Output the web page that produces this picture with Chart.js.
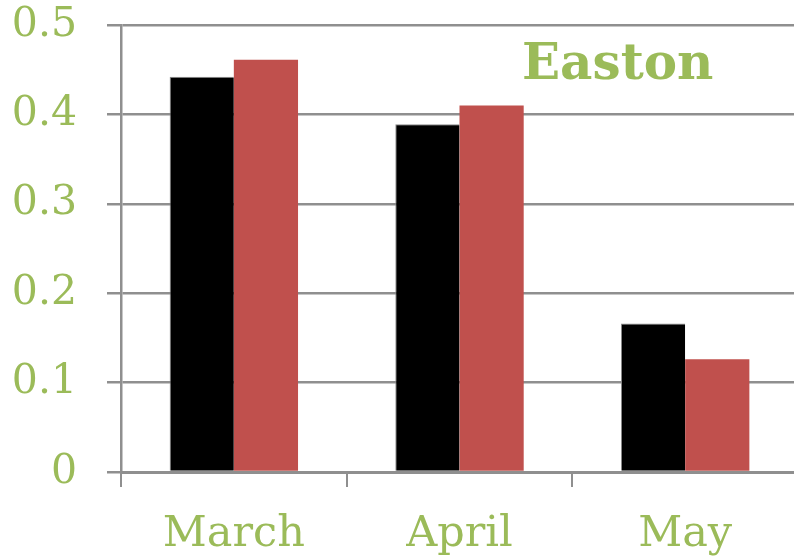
<!DOCTYPE html>
<html lang="en">
<head>
  <meta charset="UTF-8" />
  <title>Easton</title>
  <script src="https://cdn.jsdelivr.net/npm/chart.js"></script>
  <style>
    html, body { margin: 0; padding: 0; background: #fff; overflow: hidden; }
    .wrap { position: relative; width: 798px; height: 558px; }
    .chart-title {
      position: absolute;
      left: 522px;
      top: 32px;
      font-family: "DejaVu Serif", serif;
      font-weight: bold;
      font-size: 50px;
      color: #9BBB59;
    }
  </style>
</head>
<body>
  <div class="wrap">
    <canvas id="eastonChart" width="798" height="558"></canvas>
    <div class="chart-title">Easton</div>
  </div>

  <script>
    // data
    const months = ['March', 'April', 'May'];
    const seriesA = [0.442, 0.389, 0.166];
    const seriesB = [0.461, 0.410, 0.126];
    const yTicks = [0, 0.1, 0.2, 0.3, 0.4, 0.5];

    const green = '#9BBB59';
    const gridGray = '#8f8f8f';

    const ctx = document.getElementById('eastonChart').getContext('2d');
    new Chart(ctx, {
      type: 'bar',
      data: {
        labels: months,
        datasets: [
          {
            label: 'Series 1',
            data: seriesA,
            backgroundColor: '#000000',
            borderColor: '#8a8a8a',
            borderWidth: { left: 1, top: 1, right: 0, bottom: 0 },
            barPercentage: 1,
            categoryPercentage: 0.569
          },
          {
            label: 'Series 2',
            data: seriesB,
            backgroundColor: '#C0504D',
            barPercentage: 1,
            categoryPercentage: 0.569
          }
        ]
      },
      options: {
        responsive: false,
        animation: false,
        layout: { padding: { top: 25, right: 0, bottom: 0, left: 0 } },
        plugins: {
          legend: { display: false },
          tooltip: { enabled: false }
        },
        scales: {
          x: {
            grid: {
              display: true,
              drawOnChartArea: false,
              offset: true,
              color: gridGray,
              lineWidth: 2,
              tickLength: 15
            },
            border: { display: true, color: gridGray, width: 3 },
            ticks: {
              color: green,
              font: { family: 'DejaVu Serif', size: 43 },
              padding: 22
            },
            afterFit: (scale) => {
              scale.height = 86;
              scale.paddingLeft = 0;
              scale.paddingRight = 0;
            }
          },
          y: {
            min: 0,
            max: 0.5,
            afterBuildTicks: (scale) => {
              scale.ticks = yTicks.map(v => ({ value: v }));
            },
            grid: {
              color: gridGray,
              lineWidth: 2.5,
              tickLength: 14
            },
            border: { display: true, color: gridGray, width: 2.5 },
            ticks: {
              color: green,
              font: { family: 'DejaVu Serif', size: 41 },
              padding: 30,
              callback: (v) => String(v)
            },
            afterFit: (scale) => {
              scale.width = 121;
              scale.paddingTop = 0;
              scale.paddingBottom = 0;
            }
          }
        }
      }
    });
  </script>
</body>
</html>
